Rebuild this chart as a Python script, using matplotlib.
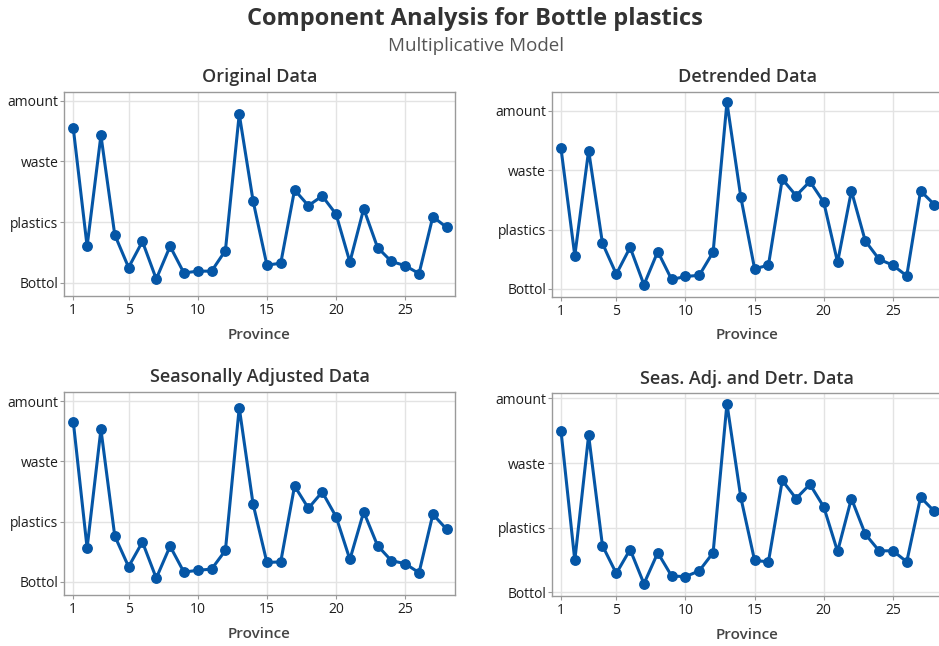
import matplotlib
matplotlib.use("Agg")
import matplotlib.pyplot as plt

provinces = list(range(1, 29))
ytick_labels = ["Bottol", "plastics", "waste", "amount"]
xtick_values = [1, 5, 10, 15, 20, 25]

original = [2.55, 0.60, 2.43, 0.79, 0.25, 0.68, 0.06, 0.60, 0.16, 0.19, 0.19, 0.53, 2.78, 1.35,
            0.29, 0.32, 1.53, 1.27, 1.43, 1.13, 0.34, 1.22, 0.58, 0.35, 0.28, 0.15, 1.09, 0.91]
detrended = [2.37, 0.56, 2.33, 0.77, 0.25, 0.70, 0.07, 0.63, 0.16, 0.21, 0.23, 0.62, 3.14, 1.55,
             0.34, 0.40, 1.85, 1.57, 1.81, 1.46, 0.45, 1.65, 0.81, 0.50, 0.40, 0.22, 1.65, 1.42]
seas_adj = [2.66, 0.56, 2.53, 0.76, 0.25, 0.66, 0.06, 0.59, 0.16, 0.19, 0.21, 0.52, 2.89, 1.29,
            0.32, 0.33, 1.59, 1.22, 1.49, 1.08, 0.37, 1.16, 0.60, 0.35, 0.30, 0.15, 1.12, 0.87]
seas_adj_detr = [2.50, 0.49, 2.43, 0.72, 0.29, 0.66, 0.13, 0.61, 0.25, 0.24, 0.33, 0.61, 2.92, 1.47,
                 0.49, 0.47, 1.73, 1.45, 1.67, 1.32, 0.63, 1.45, 0.90, 0.64, 0.64, 0.47, 1.47, 1.25]

titles = ["Original Data", "Detrended Data", "Seasonally Adjusted Data", "Seas. Adj. and Detr. Data"]
series = [original, detrended, seas_adj, seas_adj_detr]

FONT = ["Open Sans", "DejaVu Sans"]
plt.rcParams["font.family"] = FONT

W, H = 939, 646
fig = plt.figure(figsize=(W / 100, H / 100), dpi=100)

# (left, top, right, bottom) in pixels, and y-limits
boxes = [
    (64, 91.7, 455, 296.0, (-0.22, 3.15)),
    (551.7, 91.7, 942.7, 296.7, (-0.13, 3.32)),
    (64, 391.7, 455, 595.0, (-0.22, 3.155)),
    (551.7, 393.3, 942.7, 596.0, (-0.06, 3.08)),
]

line_color = "#0556a6"
for (l, t, r, b, ylim), title, vals in zip(boxes, titles, series):
    ax = fig.add_axes([l / W, 1 - b / H, (r - l) / W, (b - t) / H])
    ax.plot(provinces, vals, color=line_color, lw=2.2, marker="o", ms=6.8,
            markerfacecolor=line_color, markeredgecolor=line_color, zorder=3)
    ax.set_xlim(0.33, 28.6)
    ax.set_ylim(*ylim)
    ax.set_yticks(range(len(ytick_labels)))
    ax.set_yticklabels(ytick_labels)
    ax.set_xticks(xtick_values)
    ax.grid(True, color="#e3e3e3", lw=1.0, zorder=0)
    ax.set_axisbelow(True)
    for s in ax.spines.values():
        s.set_color("#9a9a9a")
        s.set_linewidth(1.0)
    ax.tick_params(axis="both", colors="#9a9a9a", length=3, width=0.8,
                   labelcolor="#1e1e1e", labelsize=10)
    ax.tick_params(axis="x", pad=2)
    ax.tick_params(axis="y", pad=1)
    ax.set_title(title, fontsize=13, color="#333333", fontweight="semibold", pad=7)
    ax.set_xlabel("Province", fontsize=11, color="#444444", fontweight="semibold", labelpad=7)

fig.text(475 / W, 1 - 19 / H, "Component Analysis for Bottle plastics", ha="center", va="center",
         fontsize=17, fontweight="bold", color="#333333")
fig.text(476 / W, 1 - 46 / H, "Multiplicative Model", ha="center", va="center",
         fontsize=13.5, color="#555555")

fig.savefig("out.png", dpi=100, facecolor="white")
